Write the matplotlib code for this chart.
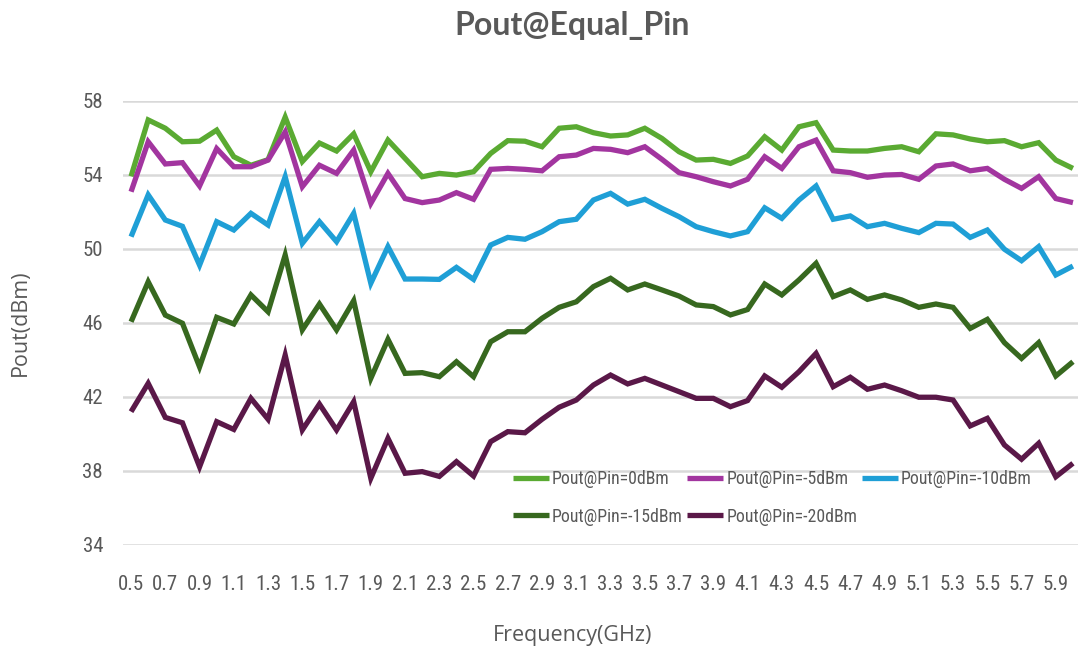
import matplotlib
matplotlib.use("Agg")
import matplotlib.pyplot as plt
from matplotlib import font_manager as fm
import numpy as np

freq = [round(0.5 + 0.1 * i, 1) for i in range(56)]
freq_labels = [f"{f:.1f}" for f in freq]

pin_0 = [53.9, 56.95, 56.5, 55.77, 55.8, 56.4, 54.96, 54.5, 54.8, 57.1,
         54.7, 55.7, 55.27, 56.2, 54.15, 55.86, 54.87, 53.88, 54.06, 53.97,
         54.15, 55.14, 55.83, 55.8, 55.5, 56.5, 56.58, 56.26, 56.08, 56.14,
         56.5, 55.95, 55.23, 54.78, 54.82, 54.6, 55.0, 56.04, 55.32, 56.58,
         56.8, 55.32, 55.27, 55.27, 55.41, 55.5, 55.23, 56.2, 56.14, 55.92,
         55.77, 55.83, 55.5, 55.72, 54.78, 54.33]
pin_m5 = [53.07, 55.77, 54.57, 54.64, 53.38, 55.4, 54.42, 54.42, 54.78, 56.3,
          53.34, 54.5, 54.06, 55.32, 52.44, 54.06, 52.7, 52.48, 52.62, 53.02,
          52.66, 54.28, 54.33, 54.28, 54.2, 54.96, 55.05, 55.41, 55.36, 55.18,
          55.5, 54.82, 54.1, 53.88, 53.61, 53.38, 53.74, 54.96, 54.33, 55.5,
          55.86, 54.2, 54.1, 53.85, 53.97, 54.0, 53.74, 54.46, 54.57, 54.2,
          54.33, 53.74, 53.25, 53.88, 52.7, 52.48]
pin_m10 = [50.64, 52.9, 51.54, 51.2, 49.1, 51.45, 51.0, 51.9, 51.27, 53.88,
           50.28, 51.45, 50.37, 51.9, 48.12, 50.1, 48.35, 48.35, 48.33, 48.98,
           48.33, 50.19, 50.6, 50.5, 50.91, 51.45, 51.58, 52.62, 52.98, 52.4,
           52.66, 52.17, 51.72, 51.18, 50.91, 50.68, 50.91, 52.2, 51.63, 52.62,
           53.38, 51.58, 51.76, 51.18, 51.36, 51.09, 50.86, 51.36, 51.32, 50.6,
           51.0, 49.96, 49.34, 50.1, 48.57, 49.05]
pin_m15 = [46.04, 48.2, 46.4, 45.96, 43.6, 46.28, 45.92, 47.49, 46.58, 49.65,
           45.6, 47.0, 45.6, 47.18, 42.98, 45.09, 43.25, 43.29, 43.07, 43.88,
           43.07, 44.96, 45.5, 45.5, 46.23, 46.82, 47.12, 47.94, 48.39, 47.76,
           48.08, 47.76, 47.43, 46.95, 46.86, 46.41, 46.7, 48.08, 47.49, 48.3,
           49.2, 47.4, 47.76, 47.25, 47.49, 47.22, 46.82, 47.0, 46.82, 45.68,
           46.17, 44.91, 44.06, 44.91, 43.11, 43.88]
pin_m20 = [41.18, 42.71, 40.87, 40.58, 38.2, 40.64, 40.22, 41.9, 40.77, 44.24,
           40.19, 41.59, 40.19, 41.72, 37.58, 39.74, 37.85, 37.94, 37.68, 38.48,
           37.7, 39.56, 40.1, 40.04, 40.77, 41.42, 41.81, 42.62, 43.16, 42.68,
           42.98, 42.62, 42.26, 41.9, 41.9, 41.45, 41.78, 43.11, 42.5, 43.34,
           44.33, 42.53, 43.04, 42.39, 42.62, 42.31, 41.96, 41.96, 41.81, 40.41,
           40.82, 39.38, 38.61, 39.47, 37.66, 38.39]

series_names = ["Pout@Pin=0dBm", "Pout@Pin=-5dBm", "Pout@Pin=-10dBm",
                "Pout@Pin=-15dBm", "Pout@Pin=-20dBm"]
series_values = [pin_0, pin_m5, pin_m10, pin_m15, pin_m20]
series_colors = ["#5aaa32", "#a2359f", "#1f9fd6", "#37681f", "#5a1848"]
y_ticks = [34, 38, 42, 46, 50, 54, 58]

# pick a narrow font for ticks / legend if available
names = {f.name for f in fm.fontManager.ttflist}
narrow = None
for cand in ["Liberation Sans Narrow", "DejaVu Sans Condensed", "Roboto Condensed"]:
    if cand in names:
        narrow = fm.FontProperties(family=cand)
        break
if narrow is None:
    narrow = fm.FontProperties(family="DejaVu Sans", stretch="condensed")

gray = "#595959"
W, H = 1078, 651
fig = plt.figure(figsize=(W / 100, H / 100), dpi=100)
left, right, top, bottom = 122.5, 1081.5, 100.5, 544.5
ax = fig.add_axes([left / W, 1 - bottom / H, (right - left) / W, (bottom - top) / H])

x = np.arange(len(freq))
lines = []
for name, vals, col in zip(series_names, series_values, series_colors):
    ln, = ax.plot(x, vals, color=col, lw=3.8, label=name, solid_joinstyle="miter",
                  solid_capstyle="butt", zorder=3)
    lines.append(ln)

ax.set_xlim(-0.5, len(freq) - 0.5)
ax.set_ylim(34, 58)
ax.set_yticks(y_ticks)
ax.set_xticks(x[::2])
ax.set_xticklabels(freq_labels[::2])
ax.grid(axis="y", color="#d9d9d9", lw=1.8, zorder=0)
ax.grid(axis="x", visible=False)
for s in ax.spines.values():
    s.set_visible(False)
ax.tick_params(axis="both", length=0, colors=gray)
ax.tick_params(axis="y", pad=14)
ax.tick_params(axis="x", pad=22)
for lab in ax.get_xticklabels() + ax.get_yticklabels():
    lab.set_fontproperties(narrow)
    lab.set_fontsize(15)
    lab.set_color(gray)

fig.text(573 / W, 1 - 635 / H, "Frequency(GHz)", family="Open Sans", fontsize=15.5,
         color=gray, ha="center", va="center")
fig.text(20 / W, 1 - 323 / H, "Pout(dBm)", family="Open Sans", fontsize=15.5, color=gray,
         rotation=90, ha="center", va="center")
fig.text(572 / W, 1 - 26 / H, "Pout@Equal_Pin", family="Lato", fontweight="bold",
         fontsize=23, color=gray, ha="center", va="center")

order = [0, 3, 1, 4, 2]
leg_props = narrow.copy()
leg_props.set_size(12.8)
leg = ax.legend([lines[i] for i in order], [series_names[i] for i in order],
                ncol=3, loc="upper left", bbox_to_anchor=((513 - left) / (right - left), 1 - (470 - top) / (bottom - top)),
                frameon=False, prop=leg_props, handlelength=2.0, handletextpad=0.2,
                columnspacing=0.25, labelspacing=1.1, borderpad=0, borderaxespad=0)
for t in leg.get_texts():
    t.set_color(gray)

fig.savefig("out.png", dpi=100)
